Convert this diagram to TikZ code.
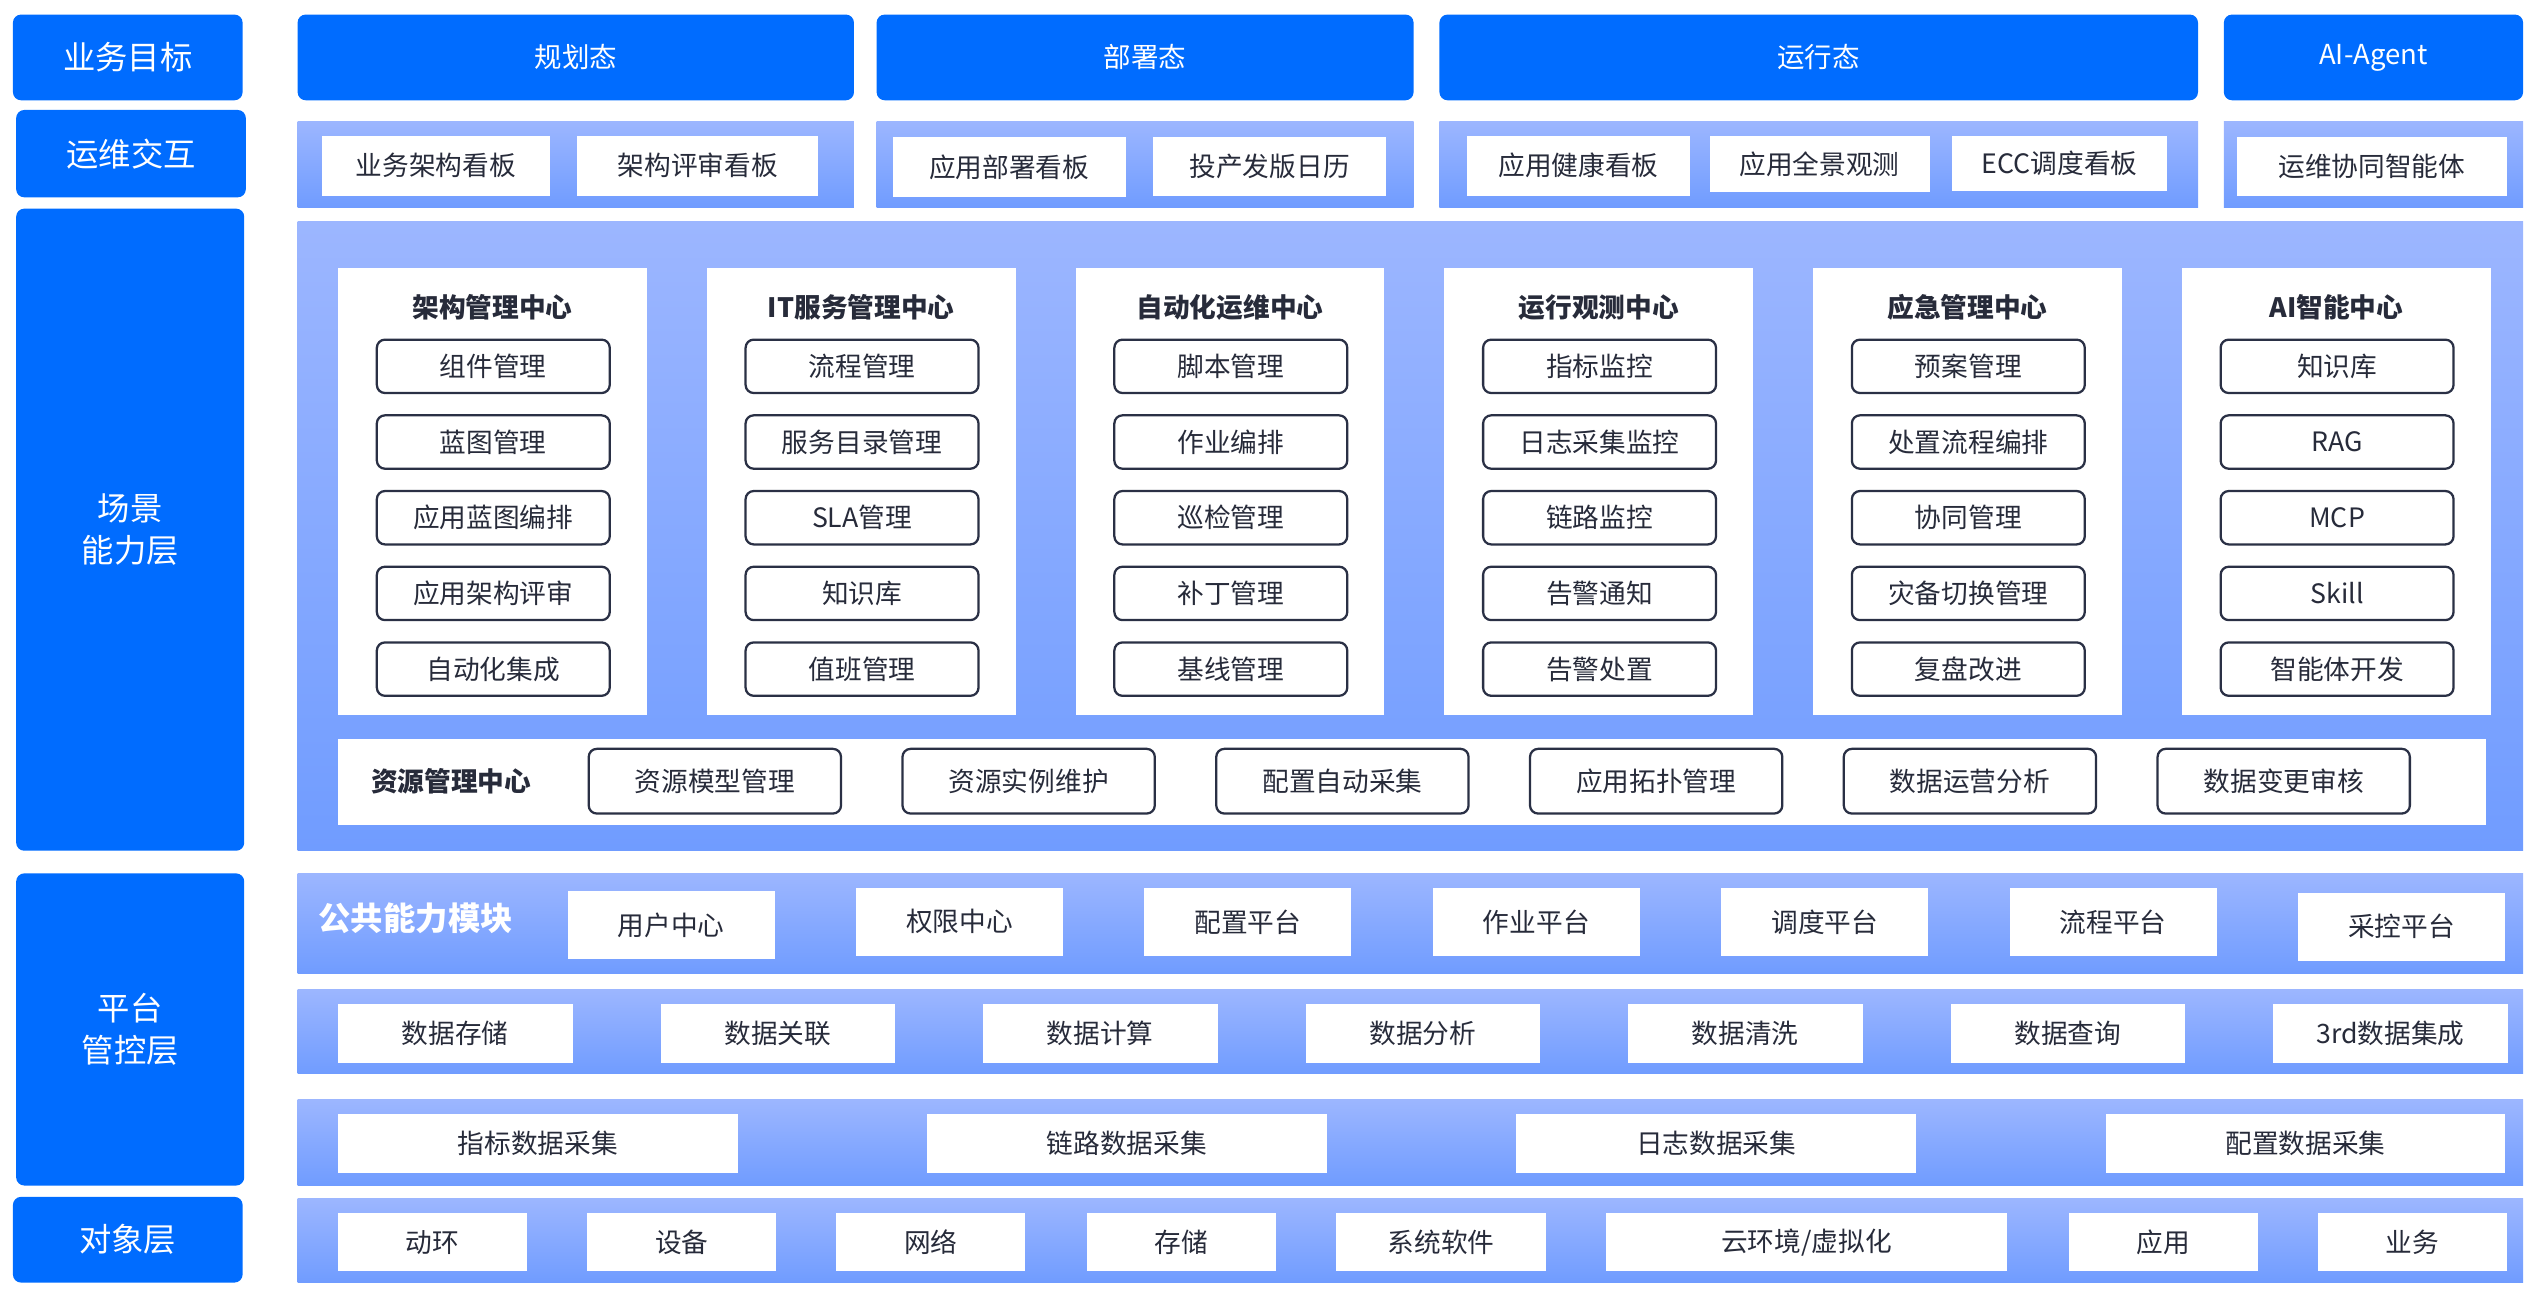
\documentclass[tikz,border=0pt]{standalone}
\usepackage{fontspec}
\setmainfont{Noto Sans CJK SC}
\definecolor{dblue}{HTML}{006CFF}
\definecolor{ptop}{HTML}{9CB6FF}
\definecolor{pbot}{HTML}{709CFF}
\definecolor{txt}{HTML}{272B3A}
\definecolor{bord}{HTML}{2A3045}
\newcommand\bx[7]{\node[#6, minimum width={(#4)-(#2)}, minimum height={(#5)-(#3)}] (#1) at ({((#2)+(#4))/2},{((#3)+(#5))/2}) {#7};}
\tikzset{
  base/.style={inner sep=0pt, outer sep=0pt},
  lab/.style={base, fill=dblue, rounded corners=5pt, text=white, align=center, font=\fontsize{20}{26}\selectfont},
  topbox/.style={base, fill=dblue, rounded corners=5pt, text=white, font=\fontsize{17}{20}\selectfont},
  panel/.style={base, top color=ptop, bottom color=pbot},
  wbox/.style={base, fill=white, text=txt, font=\fontsize{16.5}{20}\selectfont},
  ibox/.style={base, fill=white, draw=bord, line width=1.4pt, rounded corners=5pt, text=txt, font=\fontsize{16.5}{20}\selectfont},
  col/.style={base, fill=white},
  ttl/.style={base, text=txt, font=\bfseries\fontsize{16.5}{20}\selectfont},
}
\begin{document}
\begin{tikzpicture}[x=1pt, y=-1pt]
\useasboundingbox (0,0) rectangle (1568,801);
% left labels
\bx{l1}{8}{9}{150}{62}{lab}{业务目标}
\bx{l2}{10}{68}{152}{122}{lab}{运维交互}
\bx{l3}{10}{129}{151}{526}{lab}{场景\\能力层}
\bx{l4}{10}{540}{151}{733}{lab}{平台\\管控层}
\bx{l5}{8}{740}{150}{793}{lab}{对象层}
% top row
\bx{t1}{184}{9}{528}{62}{topbox}{规划态}
\bx{t2}{542}{9}{874}{62}{topbox}{部署态}
\bx{t3}{890}{9}{1359}{62}{topbox}{运行态}
\bx{t4}{1375}{9}{1560}{62}{topbox}{AI-Agent}
% row 2
\bx{r2a}{184}{75}{528}{128}{panel}{}
\bx{r2b}{542}{75}{874}{128}{panel}{}
\bx{r2c}{890}{75}{1359}{128}{panel}{}
\bx{r2d}{1375}{75}{1560}{128}{panel}{}
\bx{v1}{199}{84}{340}{121}{wbox}{业务架构看板}
\bx{v2}{357}{84}{506}{121}{wbox}{架构评审看板}
\bx{v3}{552}{85}{696}{122}{wbox}{应用部署看板}
\bx{v4}{713}{85}{857}{121}{wbox}{投产发版日历}
\bx{v5}{907}{84}{1045}{121}{wbox}{应用健康看板}
\bx{v6}{1057}{84}{1193}{119}{wbox}{应用全景观测}
\bx{v7}{1207}{84}{1340}{118}{wbox}{ECC调度看板}
\bx{v8}{1383}{85}{1550}{121}{wbox}{运维协同智能体}
% scene layer
\bx{sc}{184}{137}{1560}{526}{panel}{}
\foreach \i/\t/\ia/\ib/\ic/\id/\ie in {
  0/架构管理中心/组件管理/蓝图管理/应用蓝图编排/应用架构评审/自动化集成,
  1/IT服务管理中心/流程管理/服务目录管理/SLA管理/知识库/值班管理,
  2/自动化运维中心/脚本管理/作业编排/巡检管理/补丁管理/基线管理,
  3/运行观测中心/指标监控/日志采集监控/链路监控/告警通知/告警处置,
  4/应急管理中心/预案管理/处置流程编排/协同管理/灾备切换管理/复盘改进,
  5/AI智能中心/知识库/RAG/MCP/Skill/智能体开发}{
  \pgfmathsetmacro\xa{209+228*\i}
  \bx{c\i}{\xa}{166}{\xa+191}{442}{col}{}
  \node[ttl] (ct\i) at (\xa+95.5,190) {\t};
  \foreach \j/\s in {0/\ia,1/\ib,2/\ic,3/\id,4/\ie}{
    \pgfmathsetmacro\ya{210+46.8*\j}
    \bx{c\i i\j}{\xa+24}{\ya}{\xa+168}{\ya+33}{ibox}{\s}
  }
}
% resource center
\bx{rm}{209}{457}{1537}{510}{col}{}
\node[ttl] (rmt) at (279,483) {资源管理中心};
\foreach \k/\s in {0/资源模型管理,1/资源实例维护,2/配置自动采集,3/应用拓扑管理,4/数据运营分析,5/数据变更审核}{
  \pgfmathsetmacro\xa{364+194*\k}
  \bx{rm\k}{\xa}{463}{\xa+156}{503}{ibox}{\s}
}
% platform: common modules
\bx{pa}{184}{540}{1560}{602}{panel}{}
\node[base, text=white, font=\bfseries\fontsize{20}{24}\selectfont] (pat) at (257,568) {公共能力模块};
\foreach \k/\s/\yo in {0/用户中心/551,1/权限中心/549,2/配置平台/549,3/作业平台/549,4/调度平台/549,5/流程平台/549,6/采控平台/552}{
  \pgfmathsetmacro\xa{351+178.3*\k}
  \bx{pa\k}{\xa}{\yo}{\xa+128}{\yo+42}{wbox}{\s}
}
% platform: data
\bx{pb}{184}{612}{1560}{664}{panel}{}
\foreach \k/\s in {0/数据存储,1/数据关联,2/数据计算,3/数据分析,4/数据清洗,5/数据查询,6/3rd数据集成}{
  \pgfmathsetmacro\xa{209+199.4*\k}
  \bx{pb\k}{\xa}{621}{\xa+145}{657}{wbox}{\s}
}
% platform: collection
\bx{pc}{184}{680}{1560}{733}{panel}{}
\foreach \k/\s in {0/指标数据采集,1/链路数据采集,2/日志数据采集,3/配置数据采集}{
  \pgfmathsetmacro\xa{209+364.3*\k}
  \bx{pc\k}{\xa}{689}{\xa+247}{725}{wbox}{\s}
}
% object layer
\bx{po}{184}{741}{1560}{793}{panel}{}
\bx{o1}{209}{750}{326}{786}{wbox}{动环}
\bx{o2}{363}{750}{480}{786}{wbox}{设备}
\bx{o3}{517}{750}{634}{786}{wbox}{网络}
\bx{o4}{672}{750}{789}{786}{wbox}{存储}
\bx{o5}{826}{750}{956}{786}{wbox}{系统软件}
\bx{o6}{993}{750}{1241}{786}{wbox}{云环境/虚拟化}
\bx{o7}{1279}{750}{1396}{786}{wbox}{应用}
\bx{o8}{1433}{750}{1550}{786}{wbox}{业务}
\end{tikzpicture}
\end{document}
